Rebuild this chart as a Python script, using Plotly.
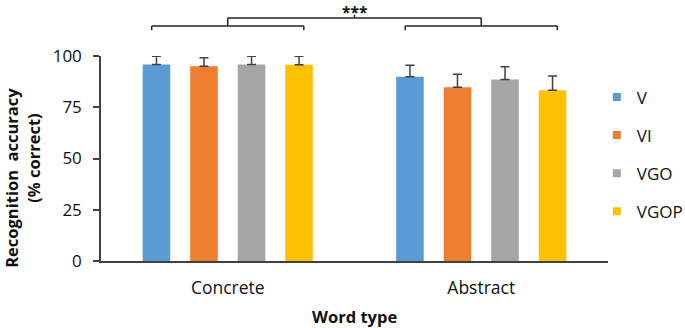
import plotly.graph_objects as go

categories = ["Concrete", "Abstract"]
series_names = ["V", "VI", "VGO", "VGOP"]
series_colors = ["#5B9BD5", "#ED7D31", "#A5A5A5", "#FFC000"]
values = {
    "V": [95.8, 89.9],
    "VI": [95.0, 84.8],
    "VGO": [95.8, 88.5],
    "VGOP": [95.7, 83.3],
}
errors = {
    "V": [4.1, 5.6],
    "VI": [4.2, 6.3],
    "VGO": [4.1, 6.2],
    "VGOP": [4.2, 7.0],
}
y_ticks = [0, 25, 50, 75, 100]
sig_label = "***"
y_title_lines = ["Recognition  accuracy", "(% correct)"]
x_title = "Word type"

FONT = "Open Sans"
TXT = "#111111"
AX = "#404040"

fig = go.Figure()
for name, color in zip(series_names, series_colors):
    fig.add_trace(go.Bar(
        x=categories, y=values[name], name=name,
        marker=dict(color=color, line=dict(width=0)),
        error_y=dict(type="data", array=errors[name], symmetric=False,
                     arrayminus=[0] * len(categories),
                     color=AX, thickness=1.5, width=4.5),
        showlegend=False,
    ))
    fig.add_trace(go.Scatter(
        x=[None], y=[None], mode="markers", name=name,
        marker=dict(symbol="square", size=8, color=color),
        legendgroup=name, showlegend=True,
    ))

# significance brackets (category-index based)
half = 0.30
y_low_end, y_low, y_mid, y_top = 1.126, 1.146, 1.185, 1.201
shapes = []
for i in range(len(categories)):
    shapes += [
        dict(type="line", xref="x", yref="paper", x0=i - half, x1=i + half, y0=y_low, y1=y_low),
        dict(type="line", xref="x", yref="paper", x0=i - half, x1=i - half, y0=y_low_end, y1=y_low),
        dict(type="line", xref="x", yref="paper", x0=i + half, x1=i + half, y0=y_low_end, y1=y_low),
        dict(type="line", xref="x", yref="paper", x0=i, x1=i, y0=y_low, y1=y_mid),
    ]
mid_x = (len(categories) - 1) / 2
shapes += [
    dict(type="line", xref="x", yref="paper", x0=0, x1=len(categories) - 1, y0=y_mid, y1=y_mid),
    dict(type="line", xref="x", yref="paper", x0=mid_x, x1=mid_x, y0=y_mid, y1=y_top),
]
for s in shapes:
    s["line"] = dict(color="#222222", width=1.5)

annotations = [
    dict(text="<b>" + sig_label + "</b>", x=mid_x, xref="x", y=1.216, yref="paper",
         yanchor="middle", showarrow=False, font=dict(size=15.5, color=TXT)),
    dict(text="<b>" + y_title_lines[0] + "</b>", x=-0.177, xref="paper", y=0.407, yref="paper",
         xanchor="center", yanchor="middle", textangle=-90, showarrow=False,
         font=dict(size=16.5, color=TXT)),
    dict(text="<b>" + y_title_lines[1] + "</b>", x=-0.132, xref="paper", y=0.499, yref="paper",
         xanchor="center", yanchor="middle", textangle=-90, showarrow=False,
         font=dict(size=16.5, color=TXT)),
    dict(text="<b>" + x_title + "</b>", x=0.5, xref="paper", y=-0.269, yref="paper",
         xanchor="center", yanchor="middle", showarrow=False,
         font=dict(size=16.5, color=TXT)),
]

fig.update_layout(
    width=685, height=328,
    margin=dict(l=101, r=77, t=56, b=67, autoexpand=False),
    paper_bgcolor="white", plot_bgcolor="white",
    barmode="group", bargap=0.25, bargroupgap=0.42,
    font=dict(family=FONT, size=17, color=TXT),
    shapes=shapes,
    annotations=annotations,
    legend=dict(x=0.978, xanchor="left", y=0.52, yanchor="middle",
                font=dict(size=17, color=TXT), tracegroupgap=13, itemwidth=30,
                bgcolor="rgba(0,0,0,0)"),
    xaxis=dict(
        showline=True, linecolor=AX, linewidth=1.5, ticks="",
        tickfont=dict(size=17.5, color=TXT), ticklabelstandoff=10,
    ),
    yaxis=dict(
        range=[0, 100], tickvals=y_ticks, showgrid=False, zeroline=False,
        showline=True, linecolor=AX, linewidth=1.5, ticks="outside",
        ticklen=6, tickwidth=1.5, tickcolor=AX, ticklabelstandoff=8,
        tickfont=dict(size=17, color=TXT),
    ),
)

fig.write_html("out.html", config={"displayModeBar": False},
               post_script="document.body.style.margin='0';document.body.style.overflow='hidden';")
